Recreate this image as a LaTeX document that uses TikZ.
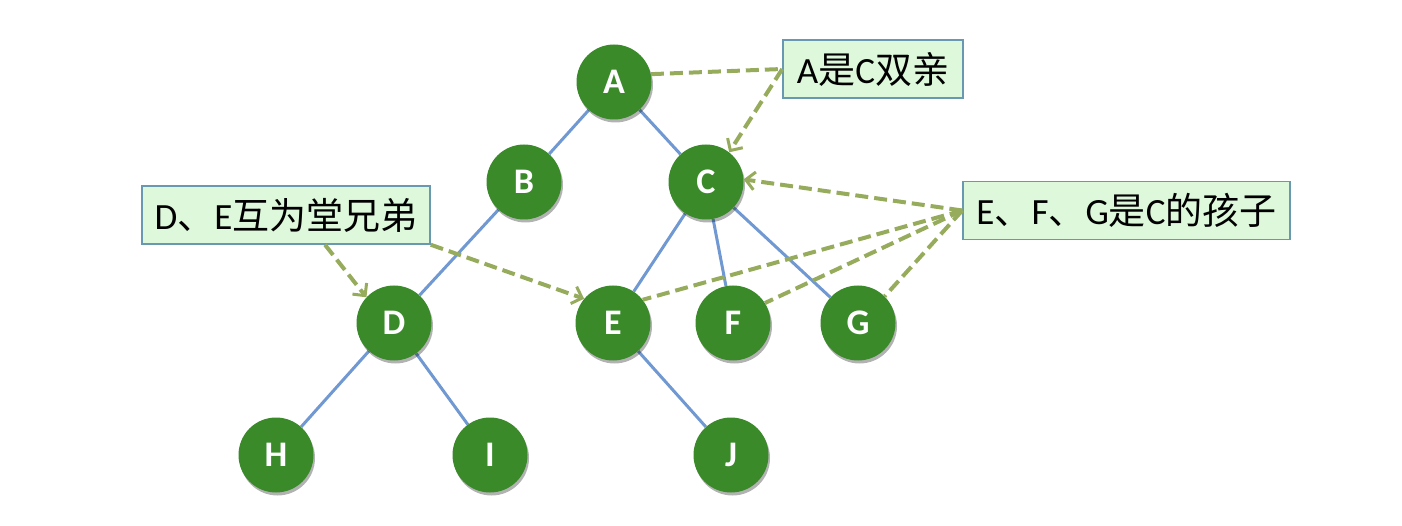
\documentclass[tikz,border=0pt]{standalone}
\usepackage{fontspec}
\setmainfont{Carlito}
\newfontfamily\cjk{Noto Sans CJK SC}
\usetikzlibrary{arrows.meta,shadows,backgrounds}
\definecolor{nodegreen}{RGB}{58,138,42}
\definecolor{edgeblue}{RGB}{112,152,210}
\definecolor{olive}{RGB}{150,172,92}
\definecolor{boxfill}{RGB}{221,248,218}
\definecolor{boxline}{RGB}{104,152,178}
\tikzset{
  treenode/.style={circle, fill=nodegreen, minimum size=75pt, inner sep=0pt,
    text=white, font=\fontsize{36}{40}\selectfont\bfseries,
    drop shadow={shadow xshift=1.5pt, shadow yshift=-3pt, opacity=0.3, fill=black}},
  treeedge/.style={draw=edgeblue, line width=3pt},
  notebox/.style={draw=boxline, line width=1.5pt, fill=boxfill, inner sep=0pt,
    minimum height=58pt, font=\fontsize{37}{42}\selectfont},
  dasharrow/.style={draw=olive, line width=4pt, dash pattern=on 13pt off 6pt,
    -{Straight Barb[length=9pt,width=18pt,line width=3pt]}},
  dashline/.style={draw=olive, line width=4pt, dash pattern=on 13pt off 6pt}
}
\begin{document}
\begin{tikzpicture}[x=1pt,y=-1pt]
\useasboundingbox (0,0) rectangle (1402,526);
% nodes
\node[treenode] (A) at (614,82) {A};
\node[treenode] (B) at (524,182) {B};
\node[treenode] (C) at (706,182) {C};
\node[treenode] (D) at (394,323) {D};
\node[treenode] (E) at (613,323) {E};
\node[treenode] (F) at (733,323) {F};
\node[treenode] (G) at (858,323) {G};
\node[treenode] (H) at (276,455) {H};
\node[treenode] (I) at (490,455) {I};
\node[treenode] (J) at (731,455) {J};
% boxes
\node[notebox, minimum width=180pt] (b1) at (873,69) {A{\cjk 是}C{\cjk 双亲}};
\node[notebox, minimum width=288pt] (b2) at (286,215) {D{\cjk 、}E{\cjk 互为堂兄弟}};
\node[notebox, minimum width=327pt] (b3) at (1126.5,210.5) {E{\cjk 、}F{\cjk 、}G{\cjk 是}C{\cjk 的孩子}};
% tree edges
\begin{pgfonlayer}{background}
\draw[treeedge] (A) -- (B);
\draw[treeedge] (A) -- (C);
\draw[treeedge] (B) -- (D);
\draw[treeedge] (C) -- (E);
\draw[treeedge] (C) -- (F);
\draw[treeedge] (C) -- (G);
\draw[treeedge] (D) -- (H);
\draw[treeedge] (D) -- (I);
\draw[treeedge] (E) -- (J);
\end{pgfonlayer}
% annotations
\draw[dashline] (A.12) -- (b1.west);
\draw[dasharrow] (b1.west) -- (C.52);
\draw[dasharrow] (b3.west) -- (C.4);
\draw[dashline] (b3.west) -- (E.38);
\draw[dashline] (b3.west) -- (F.32);
\draw[dashline] (b3.west) -- (G.45);
\coordinate (b2a) at ([xshift=39pt]b2.south);
\draw[dasharrow] (b2a) -- (D.137);
\draw[dasharrow] (b2.south east) -- (E.140);
\end{tikzpicture}
\end{document}
